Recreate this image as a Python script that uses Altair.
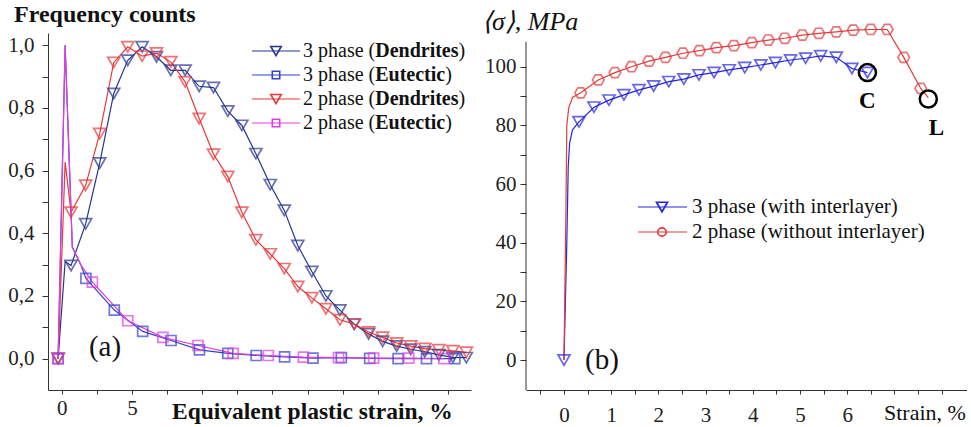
import altair as alt
import pandas as pd

# ---------------- panel (a): frequency counts vs equivalent plastic strain ----------------
A_SERIES = ["3 phase (Dendrites)", "3 phase (Eutectic)", "2 phase (Dendrites)", "2 phase (Eutectic)"]
A_COLORS = ["#27348f", "#3440cc", "#e8383c", "#e03ee2"]

DEN_x = [-0.26, 0.24, 0.66, 1.7, 2.7, 3.7, 4.7, 5.72, 6.74, 7.76, 8.78, 9.78, 10.8, 11.82, 12.82,
         13.82, 14.84, 15.84, 16.8, 17.8, 18.8, 19.8, 20.82, 21.84, 22.84, 23.84, 24.84, 25.84,
         26.84, 27.84, 28.8]
DEN_m = [1, 0] + [1] * 29
D3_y = [0, 0.31, 0.297, 0.43, 0.624, 0.846, 0.952, 0.995, 0.963, 0.92, 0.92, 0.869, 0.865, 0.79,
        0.744, 0.654, 0.555, 0.473, 0.361, 0.278, 0.2, 0.155, 0.11, 0.079, 0.055, 0.04, 0.03,
        0.022, 0.012, 0.004, 0.003]
D2_y = [0, 0.627, 0.467, 0.553, 0.718, 0.945, 0.995, 0.965, 0.975, 0.947, 0.883, 0.766, 0.652,
        0.581, 0.467, 0.379, 0.334, 0.287, 0.23, 0.194, 0.159, 0.124, 0.11, 0.085, 0.068, 0.05,
        0.04, 0.032, 0.028, 0.025, 0.02]

E3_x = [-0.26, 0.24, 0.75, 1.35, 1.72, 3.74, 5.76, 7.78, 9.8, 11.82, 13.84, 15.86, 17.88, 19.9,
        21.92, 23.94, 25.96, 27.98]
E3_y = [0, 1.0, 0.356, 0.30, 0.256, 0.155, 0.087, 0.058, 0.028, 0.017, 0.01, 0.006, 0.002, 0.003,
        0.001, 0.0, 0.0, 0.0]
E3_m = [1, 0, 0, 0] + [1] * 14

E2_x = [-0.26, 0.24, 0.75, 1.35, 2.18, 4.7, 7.2, 9.7, 12.2, 14.7, 17.2, 19.7, 22.2, 24.7, 27.2]
E2_y = [0, 1.0, 0.356, 0.30, 0.244, 0.121, 0.068, 0.042, 0.017, 0.01, 0.005, 0.003, 0.002, 0.002, 0.0]
E2_m = [1, 0, 0, 0] + [1] * 11

A_YTICKS = [round(0.1 * k, 1) for k in range(11)]
A_XTICKS = [2.5 * k for k in range(12)]

# ---------------- panel (b): mean stress vs strain ----------------
B_SERIES = ["3 phase (with interlayer)", "2 phase (without interlayer)"]
B_COLORS = ["#2626de", "#e23b3d"]

B3_x = [0, 0.06, 0.09, 0.12, 0.18, 0.318, 0.636, 0.953, 1.27, 1.59, 1.9, 2.22, 2.54, 2.86, 3.18,
        3.5, 3.83, 4.17, 4.48, 4.8, 5.12, 5.44, 5.77, 6.1, 6.43]
B3_y = [0, 40, 66, 74, 78.5, 81.2, 86.2, 88.6, 90.4, 92.1, 93.4, 94.9, 95.8, 97.2, 98.0, 98.9,
        99.7, 100.6, 101.4, 102.3, 102.9, 103.7, 103.2, 99.4, 98.0]
B3_m = [1, 0, 0, 0, 0] + [1] * 20

B2_x = [0, 0.04, 0.06, 0.1, 0.18, 0.354, 0.727, 1.08, 1.43, 1.8, 2.15, 2.52, 2.87, 3.23, 3.6,
        3.98, 4.33, 4.68, 5.05, 5.4, 5.77, 6.13, 6.5, 6.85, 7.2, 7.56, 7.72]
B2_y = [0, 50, 80, 86, 89.5, 91.1, 95.5, 98.0, 100, 101.9, 103.2, 104.6, 105.5, 106.5, 107.2,
        108.2, 109.1, 109.7, 110.8, 111.4, 111.9, 112.5, 112.7, 112.7, 103.2, 92.6, 89.5]
B2_m = [0, 0, 0, 0, 0] + [1] * 21 + [0]

B_MARK_x = [6.43, 7.72]
B_MARK_y = [98.0, 89.0]
B_MARK_lab = ["C", "L"]
B_LAB_x = [6.43, 7.89]
B_LAB_y = [88.2, 79.0]

B_XTICKS = [-0.5 + 0.5 * k for k in range(18)]
B_YTICKS = [10 * k for k in range(11)]

FONT = "Liberation Serif"


def frame(name, xs, ys, ms):
    return pd.DataFrame({"series": name, "x": xs, "y": ys, "mk": ms, "i": list(range(len(xs)))})


dfa = pd.concat([
    frame(A_SERIES[0], DEN_x, D3_y, DEN_m),
    frame(A_SERIES[1], E3_x, E3_y, E3_m),
    frame(A_SERIES[2], DEN_x, D2_y, DEN_m),
    frame(A_SERIES[3], E2_x, E2_y, E2_m),
], ignore_index=True)

dfb = pd.concat([
    frame(B_SERIES[0], B3_x, B3_y, B3_m),
    frame(B_SERIES[1], B2_x, B2_y, B2_m),
], ignore_index=True)

one = pd.DataFrame({"a": [0]})

# Times/Liberation Serif advance widths (per 1000 em) for the legend pieces
REG = {" ": 250, "2": 500, "3": 500, "p": 500, "h": 500, "a": 444, "s": 389, "e": 444, "(": 333, ")": 333}
BLD = {"D": 722, "e": 444, "n": 556, "d": 556, "r": 444, "i": 278, "t": 333, "s": 389, "E": 667,
       "u": 556, "c": 444}


def tw(s, tbl, fs):
    return sum(tbl[c] for c in s) * fs / 1000.0


def txt(s, x, y, size, weight="normal", style="normal", align="left", color="#111"):
    return alt.Chart(one).mark_text(
        text=s, font=FONT, fontSize=size, fontWeight=weight, fontStyle=style,
        align=align, baseline="middle", color=color,
    ).encode(x=alt.value(x), y=alt.value(y))


AXIS_STYLE = dict(labelFont=FONT, labelFontSize=21, labelColor="#222", domainColor="#333",
                  tickColor="#333", grid=False, title=None)

# ---------------- panel (a) chart ----------------
AW, AH = 423, 357
ax = alt.X("x:Q", scale=alt.Scale(domain=[-0.98, 29.13], nice=False, zero=False),
           axis=alt.Axis(values=A_XTICKS, tickSize=4, labelPadding=3, **AXIS_STYLE,
                         labelExpr="datum.value == 0 || datum.value == 5 ? format(datum.value, 'd') : ''"))
ay = alt.Y("y:Q", scale=alt.Scale(domain=[-0.1, 1.039], nice=False, zero=False),
           axis=alt.Axis(values=A_YTICKS, tickSize=6, labelPadding=8, **AXIS_STYLE,
                         labelExpr="round(datum.value*10) % 2 == 0 ? replace(format(datum.value, '.1f'), '.', ',') : ''"))
acol = alt.Color("series:N", scale=alt.Scale(domain=A_SERIES, range=A_COLORS), legend=None)

a_lines = alt.Chart(dfa).mark_line(strokeWidth=1.2).encode(x=ax, y=ay, color=acol, order="i:Q")
a_tri = alt.Chart(dfa).transform_filter(
    "datum.mk == 1 && indexof(datum.series, 'Dendrites') >= 0"
).mark_point(shape="triangle-down", filled=False, size=144, strokeWidth=1.7).encode(x=ax, y=ay, color=acol)
a_sq = alt.Chart(dfa).transform_filter(
    "datum.mk == 1 && indexof(datum.series, 'Eutectic') >= 0"
).mark_point(shape="square", filled=False, size=100, strokeWidth=1.7).encode(x=ax, y=ay, color=acol)

a_layers = [a_lines, a_tri, a_sq]

# custom legend with partially bold labels
LEG_A_bold = ["Dendrites", "Eutectic", "Dendrites", "Eutectic"]
LEG_A_pre = ["3 phase (", "3 phase (", "2 phase (", "2 phase ("]
LEG_A_shape = ["triangle-down", "square", "triangle-down", "square"]
LEG_A_size = [110, 55, 110, 55]
for k in range(4):
    yy = 18 + 24 * k
    c = A_COLORS[k]
    a_layers.append(alt.Chart(one).mark_rule(color=c, strokeWidth=1.2).encode(
        x=alt.value(204), x2=alt.value(252), y=alt.value(yy)))
    a_layers.append(alt.Chart(one).mark_point(shape=LEG_A_shape[k], filled=False, size=LEG_A_size[k],
                                              strokeWidth=1.6, color=c, opacity=1).encode(
        x=alt.value(228), y=alt.value(yy)))
    x0 = 255
    w1 = tw(LEG_A_pre[k], REG, 20)
    w2 = tw(LEG_A_bold[k], BLD, 20)
    a_layers.append(txt(LEG_A_pre[k], x0, yy, 20))
    a_layers.append(txt(LEG_A_bold[k], x0 + w1, yy, 20, weight="bold"))
    a_layers.append(txt(")", x0 + w1 + w2, yy, 20))

a_layers.append(txt("Frequency counts", -34, -18, 24, weight="bold"))
a_layers.append(txt("Equivalent plastic strain, %", 124, 379, 23.5, weight="bold"))
a_layers.append(txt("(a)", 57, 314, 29, align="center"))

chart_a = alt.layer(*a_layers).properties(width=AW, height=AH)

# ---------------- panel (b) chart ----------------
BW, BH = 441, 357
BYLO, BYHI = -10.2, 111.5
bx = alt.X("x:Q", scale=alt.Scale(domain=[-0.805, 8.54], nice=False, zero=False),
           axis=alt.Axis(values=B_XTICKS, tickSize=4, labelPadding=10, **AXIS_STYLE,
                         labelExpr="datum.value >= 0 && datum.value <= 6 && datum.value == round(datum.value) ? format(datum.value, 'd') : ''"))
by = alt.Y("y:Q", scale=alt.Scale(domain=[BYLO, BYHI], nice=False, zero=False),
           axis=alt.Axis(values=B_YTICKS, tickSize=6, labelPadding=4, domain=False, **AXIS_STYLE,
                         labelExpr="datum.value % 20 == 0 ? format(datum.value, 'd') : ''"))
bcol = alt.Color("series:N", scale=alt.Scale(domain=B_SERIES, range=B_COLORS), legend=None)

b_lines = alt.Chart(dfb).mark_line(strokeWidth=1.2).encode(x=bx, y=by, color=bcol, order="i:Q")
b_tri = alt.Chart(dfb).transform_filter(
    "datum.mk == 1 && indexof(datum.series, '3 phase') >= 0"
).mark_point(shape="triangle-down", filled=False, size=144, strokeWidth=1.7).encode(x=bx, y=by, color=bcol)
b_hex = alt.Chart(dfb).transform_filter(
    "datum.mk == 1 && indexof(datum.series, '2 phase') >= 0"
).mark_point(shape="M -1 0 L -0.5 -0.866 L 0.5 -0.866 L 1 0 L 0.5 0.866 L -0.5 0.866 Z",
             filled=False, size=135, strokeWidth=1.7).encode(x=bx, y=by, color=bcol)

dmark = pd.DataFrame({"x": B_MARK_x, "y": B_MARK_y})
dlab = pd.DataFrame({"x": B_LAB_x, "y": B_LAB_y, "t": B_MARK_lab})
b_circ = alt.Chart(dmark).mark_point(shape="circle", filled=False, size=290, strokeWidth=2.5,
                                     color="#000", opacity=1).encode(x=bx, y=by)
b_lab = alt.Chart(dlab).mark_text(font=FONT, fontSize=23, fontWeight="bold", color="#000",
                                  baseline="middle").encode(x=bx, y=by, text="t:N")

y_top_px = (BYHI - 108.5) / (BYHI - BYLO) * BH
b_axisline = alt.Chart(one).mark_rule(color="#333", strokeWidth=1).encode(
    x=alt.value(0), y=alt.value(y_top_px), y2=alt.value(BH))

b_layers = [b_axisline, b_lines, b_tri, b_hex, b_circ, b_lab]

LEG_B_shape = ["triangle-down", "circle"]
LEG_B_size = [120, 70]
for k in range(2):
    yy = 174 + 25 * k
    c = B_COLORS[k]
    b_layers.append(alt.Chart(one).mark_rule(color=c, strokeWidth=1.2).encode(
        x=alt.value(112), x2=alt.value(161), y=alt.value(yy)))
    b_layers.append(alt.Chart(one).mark_point(shape=LEG_B_shape[k], filled=False, size=LEG_B_size[k],
                                              strokeWidth=1.7, color=c, opacity=1).encode(
        x=alt.value(136), y=alt.value(yy)))
    b_layers.append(txt(B_SERIES[k], 166, yy, 21))

b_layers.append(txt("\u27e8\u03c3\u27e9, MPa", -44, -11, 26, style="italic"))
b_layers.append(txt("Strain, %", 358, 380, 22))
b_layers.append(txt("(b)", 76, 327, 29, align="center"))

chart_b = alt.layer(*b_layers).properties(width=BW, height=BH)

chart = alt.hconcat(chart_a, chart_b, spacing=55, bounds="flush").resolve_scale(
    color="independent", x="independent", y="independent"
).properties(
    padding={"left": 7, "top": 3, "right": 0, "bottom": 0}
).configure_view(stroke=None).configure_axis(
    grid=False, labelFont=FONT, labelFontSize=21, labelColor="#222",
    domainColor="#333", tickColor="#333", domainWidth=1, tickWidth=1,
)

chart.save("out.html", embed_options={"renderer": "svg", "actions": False})
